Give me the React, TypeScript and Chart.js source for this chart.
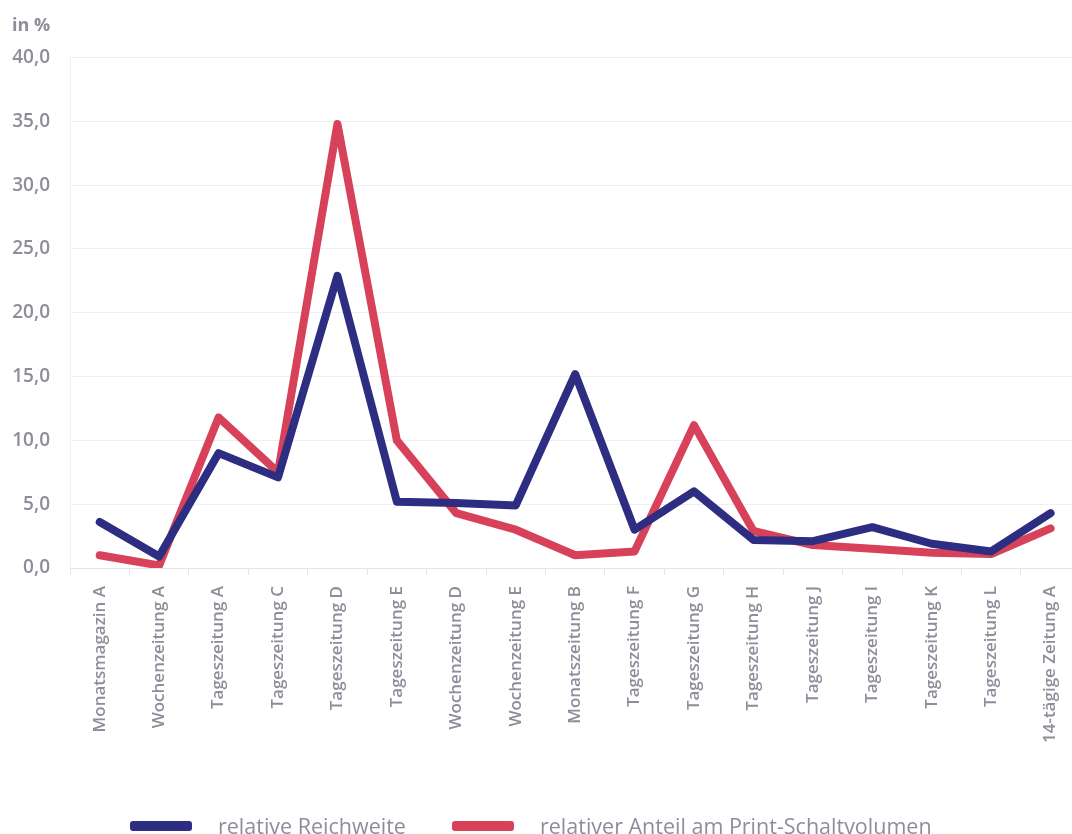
import { useRef, useEffect } from 'react';
import { Chart, registerables } from 'chart.js';

Chart.register(...registerables);

const categories = [
  'Monatsmagazin A',
  'Wochenzeitung A',
  'Tageszeitung A',
  'Tageszeitung C',
  'Tageszeitung D',
  'Tageszeitung E',
  'Wochenzeitung D',
  'Wochenzeitung E',
  'Monatszeitung B',
  'Tageszeitung F',
  'Tageszeitung G',
  'Tageszeitung H',
  'Tageszeitung J',
  'Tageszeitung I',
  'Tageszeitung K',
  'Tageszeitung L',
  '14-tägige Zeitung A',
];

const reichweite = [3.6, 0.9, 9.0, 7.1, 22.9, 5.2, 5.1, 4.9, 15.2, 3.0, 6.0, 2.2, 2.1, 3.2, 1.9, 1.3, 4.3];
const schaltvolumen = [1.0, 0.2, 11.8, 7.5, 34.8, 10.0, 4.3, 3.0, 1.0, 1.3, 11.2, 2.9, 1.8, 1.5, 1.2, 1.1, 3.1];

const seriesLabels = ['relative Reichweite', 'relativer Anteil am Print-Schaltvolumen'];
const seriesColors = ['#2d2d82', '#d7425a'];
const yTicks = [0, 5, 10, 15, 20, 25, 30, 35, 40];

const GREY = '#8e8d9a';
const FONT = "'Open Sans', 'DejaVu Sans', sans-serif";

export default function App() {
  const canvasRef = useRef<HTMLCanvasElement>(null);
  const chartRef = useRef<Chart | null>(null);

  useEffect(() => {
    if (!canvasRef.current) return;
    if (chartRef.current) chartRef.current.destroy();

    chartRef.current = new Chart(canvasRef.current, {
      type: 'line',
      data: {
        labels: categories,
        datasets: [
          {
            label: seriesLabels[0],
            data: reichweite,
            borderColor: seriesColors[0],
            backgroundColor: seriesColors[0],
          },
          {
            label: seriesLabels[1],
            data: schaltvolumen,
            borderColor: seriesColors[1],
            backgroundColor: seriesColors[1],
          },
        ],
      },
      options: {
        responsive: false,
        animation: false,
        layout: { padding: { left: 12, right: 0, top: 0, bottom: 0 } },
        elements: {
          line: { borderWidth: 8, tension: 0, borderJoinStyle: 'round', borderCapStyle: 'round' },
          point: { radius: 0, hoverRadius: 0 },
        },
        plugins: {
          title: {
            display: true,
            text: 'in %',
            align: 'start',
            color: GREY,
            font: { family: FONT, size: 18, weight: 'bold' },
            padding: { top: 15, bottom: 21 },
          },
          // legend is drawn as HTML below the canvas
          legend: { display: false },
          tooltip: { enabled: false },
        },
        scales: {
          x: {
            offset: true,
            grid: {
              display: true,
              drawOnChartArea: false,
              drawTicks: true,
              tickLength: 7,
              color: '#e4e4ea',
              offset: true,
            },
            border: { color: '#e4e4ea', width: 1 },
            ticks: {
              autoSkip: false,
              maxRotation: 90,
              minRotation: 90,
              color: GREY,
              padding: 11,
              font: { family: FONT, size: 17, weight: 600 },
            },
            afterFit: (scale: any) => {
              scale.height = 266;
            },
          },
          y: {
            min: 0,
            max: 40,
            afterBuildTicks: (scale: any) => {
              scale.ticks = yTicks.map((v) => ({ value: v }));
            },
            grid: { color: '#eeeef3', drawTicks: false },
            border: { color: '#f0f0f4' },
            ticks: {
              color: GREY,
              padding: 20,
              font: { family: FONT, size: 19, weight: 600 },
              callback: (v: any) => Number(v).toFixed(1).replace('.', ','),
            },
            afterFit: (scale: any) => {
              scale.width = 58;
            },
          },
        },
      },
    });

    return () => {
      if (chartRef.current) chartRef.current.destroy();
    };
  }, []);

  const legendLeft = [130, 452];

  return (
    <div style={{ position: 'fixed', left: 0, top: 0, width: 1072, height: 834, overflow: 'hidden', background: '#fff' }}>
      <canvas ref={canvasRef} width={1082} height={834} style={{ width: 1082, height: 834 }} />
      {seriesLabels.map((label, i) => (
        <div key={label} style={{ position: 'absolute', left: legendLeft[i], top: 815, height: 22, display: 'flex', alignItems: 'center' }}>
          <span style={{ display: 'inline-block', width: 62, height: 10, borderRadius: 3, background: seriesColors[i], marginRight: 26 }} />
          <span style={{ fontFamily: FONT, fontSize: 21.5, lineHeight: '22px', color: GREY, whiteSpace: 'nowrap' }}>{label}</span>
        </div>
      ))}
    </div>
  );
}
